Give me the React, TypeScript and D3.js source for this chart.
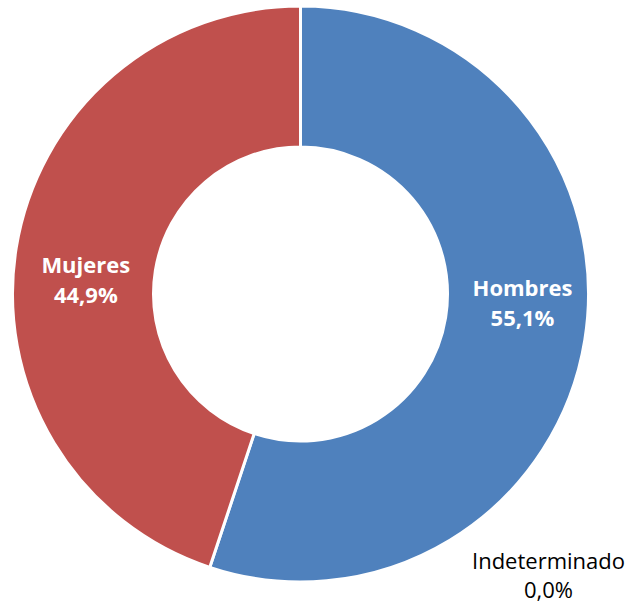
import React from "react";
import * as d3 from "d3";

const categories = ["Hombres", "Mujeres", "Indeterminado"];
const values = [55.1, 44.9, 0.0];
const labels = ["55,1%", "44,9%", "0,0%"];
const colors = ["#4F81BD", "#C0504D", "#9BBB59"];

export default function App() {
  const width = 631;
  const height = 604;
  const cx = 300.5;
  const cy = 294;
  const outerR = 288;
  const innerR = 147;

  const data = categories.map((c, i) => ({ name: c, value: values[i], label: labels[i], color: colors[i] }));
  const pie = d3.pie<any>().value((d) => d.value).sort(null).startAngle(0).endAngle(2 * Math.PI);
  const arcs = pie(data);
  const arc = d3.arc<any>().innerRadius(innerR).outerRadius(outerR);

  const font = "'Segoe UI', 'Open Sans', 'Noto Sans', sans-serif";

  return (
    <svg width={width} height={height} style={{ position: "absolute", left: 0, top: 0 }}>
      <rect width={width} height={height} fill="#fff" />
      <g transform={`translate(${cx},${cy})`}>
        {arcs.map((a, i) => (
          <path key={i} d={arc(a) || ""} fill={a.data.color} stroke="#fff" strokeWidth={3} />
        ))}
        {arcs.map((a, i) => {
          if (a.data.value <= 0) return null;
          const [x, y] = arc.centroid(a);
          const isRight = x > 0;
          const lx = x + (isRight ? 7.3 : 0);
          const yOff = isRight ? -33 : 14;
          return (
            <text key={"l" + i} x={lx} y={y + yOff} textAnchor="middle" fill="#fff"
              fontFamily={font} fontWeight="bold" fontSize={22}>
              <tspan x={lx} dy={0}>{a.data.name}</tspan>
              <tspan x={lx} dy={30}>{a.data.label}</tspan>
            </text>
          );
        })}
        {arcs.map((a, i) => {
          if (a.data.value > 0) return null;
          const lx = 248;
          const ly = 275;
          return (
            <text key={"z" + i} x={lx} y={ly} textAnchor="middle" fill="#000" fontFamily={font} fontSize={22}>
              <tspan x={lx} dy={0}>{a.data.name}</tspan>
              <tspan x={lx} dy={29}>{a.data.label}</tspan>
            </text>
          );
        })}
      </g>
    </svg>
  );
}
